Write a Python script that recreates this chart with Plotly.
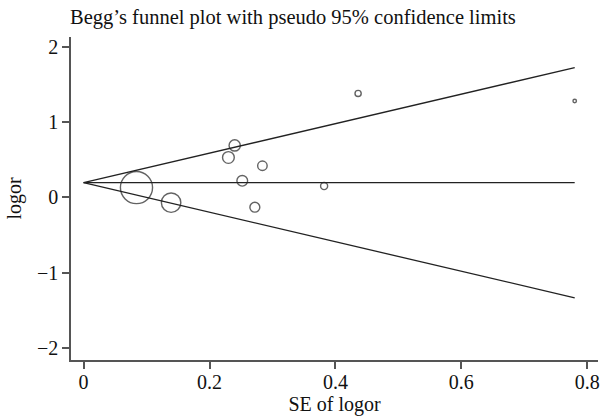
import plotly.graph_objects as go

# Study-level data
se = [0.084, 0.139, 0.230, 0.240, 0.252, 0.284, 0.272, 0.382, 0.436, 0.780]
logor = [0.13, -0.07, 0.53, 0.69, 0.22, 0.42, -0.13, 0.15, 1.38, 1.28]
pooled = 0.195
x_ticks = [0, 0.2, 0.4, 0.6, 0.8]
y_ticks = [-2, -1, 0, 1, 2]

se_max = max(se)
funnel_x = [0, se_max]
upper = [pooled + 1.96 * s for s in funnel_x]
lower = [pooled - 1.96 * s for s in funnel_x]

# marker diameter proportional to 1/SE (weight-based, as in Stata's metabias graph)
sizes = [2.7 / s for s in se]

font = "Liberation Serif"
fig = go.Figure()
line_style = dict(color="#222222", width=1.3)
fig.add_trace(go.Scatter(x=funnel_x, y=upper, mode="lines", line=line_style, hoverinfo="skip"))
fig.add_trace(go.Scatter(x=funnel_x, y=lower, mode="lines", line=line_style, hoverinfo="skip"))
fig.add_trace(go.Scatter(x=funnel_x, y=[pooled, pooled], mode="lines", line=line_style, hoverinfo="skip"))
fig.add_trace(go.Scatter(
    x=se, y=logor, mode="markers",
    marker=dict(size=sizes, color="rgba(0,0,0,0)", line=dict(color="#222222", width=1.4)),
))

fig.update_layout(
    width=604, height=420,
    margin=dict(l=71, r=4, t=37, b=60),
    paper_bgcolor="white", plot_bgcolor="white",
    showlegend=False,
    font=dict(family=font, size=20, color="#111111"),
    title=dict(text="Begg\u2019s funnel plot with pseudo 95% confidence limits",
               x=70 / 604, xanchor="left", y=1 - 17 / 420, yanchor="middle",
               font=dict(family=font, size=20.5, color="#111111")),
)
axis_common = dict(showgrid=False, zeroline=False, showline=True, linecolor="#555555",
                   linewidth=1.5, ticks="outside", ticklen=7, tickwidth=1.5, tickcolor="#555555",
                   tickfont=dict(family=font, size=20, color="#111111"))
fig.update_xaxes(range=[-0.02, 0.817], tickvals=x_ticks, ticktext=[f"{t:g}" for t in x_ticks],
                 ticklabelstandoff=-4,
                 title=dict(text="SE of logor", standoff=0, font=dict(family=font, size=20)),
                 **axis_common)
fig.update_yaxes(range=[-2.16, 2.13], tickvals=y_ticks,
                 ticktext=[("\u2212" + str(-t)) if t < 0 else str(t) for t in y_ticks],
                 title=dict(text="logor", standoff=10, font=dict(family=font, size=20)),
                 **axis_common)

fig.write_html("out.html")
